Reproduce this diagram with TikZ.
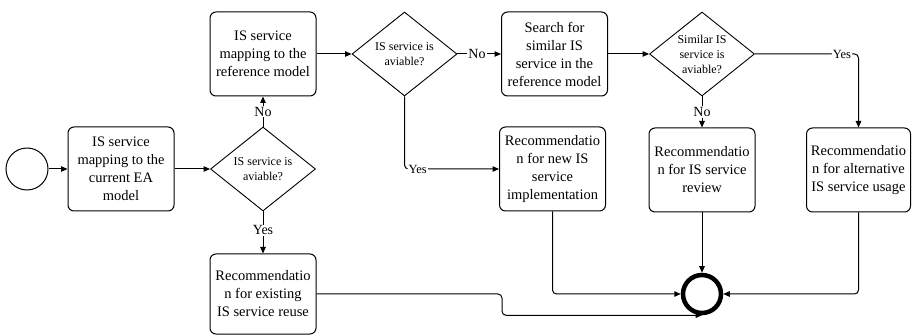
\documentclass[tikz,border=0pt]{standalone}
\usepackage{fontspec}
\setmainfont{Liberation Serif}
\usetikzlibrary{shapes.geometric,arrows.meta}
\begin{document}
\begin{tikzpicture}[x=1pt,y=-1pt,
  box/.style={draw, rounded corners=6pt, minimum width=106pt, minimum height=84pt, inner sep=2pt, align=center, font=\fontsize{14.5}{18}\selectfont, line width=1pt},
  dec/.style={draw, diamond, aspect=1.25, minimum width=105pt, minimum height=84pt, inner sep=0pt, align=center, font=\fontsize{12}{15}\selectfont, line width=0.9pt},
  flow/.style={line width=1pt, -{Triangle[length=6.5pt,width=5.5pt]}},
  lbl/.style={fill=white, inner sep=1pt, font=\fontsize{14}{14}\selectfont},
  slbl/.style={fill=white, inner sep=1pt, font=\fontsize{12.5}{12.5}\selectfont},
]
\useasboundingbox (0,0) rectangle (912,336);

\node[circle, draw, line width=1pt, minimum size=42pt] (start) at (27,169) {};
\node[box] (map) at (121,169) {IS service\\mapping to the\\current EA\\model};
\node[dec] (d1) at (263,169) {IS service is\\aviable?};
\node[box] (ref) at (263,54) {IS service\\mapping to the\\reference model};
\node[box, minimum height=80pt] (reuse) at (263,294) {Recommendatio\\n for existing\\IS service reuse};
\node[dec] (d2) at (404.5,54) {IS service is\\aviable?};
\node[box] (search) at (554.5,54) {Search for\\similar IS\\service in the\\reference model};
\node[dec] (d3) at (702,54) {Similar IS\\service is\\aviable?};
\node[box] (impl) at (552.5,169) {Recommendatio\\n for new IS\\service\\implementation};
\node[box] (rev) at (702,170) {Recommendatio\\n for IS service\\review};
\node[box, minimum width=104pt] (alt) at (858.5,170) {Recommendatio\\n for alternative\\IS service usage};
\node[circle, draw, line width=4.5pt, minimum size=38pt] (end) at (702,294) {};
\coordinate (k1) at (502,294);

\draw[flow] (start) -- (map);
\draw[flow] (map) -- (d1);
\draw[flow] (d1) -- node[lbl]{No} (ref);
\draw[flow] (d1) -- node[lbl, pos=0.45]{Yes} (reuse);
\draw[flow] (ref) -- (d2);
\draw[flow] (d2) -- node[lbl, pos=0.45]{No} (search);
\draw[flow, rounded corners=4pt] (d2.south) |- node[slbl, pos=0.57]{Yes} (impl.west);
\draw[flow] (search) -- (d3);
\draw[flow] (d3) -- node[lbl]{No} (rev);
\draw[flow, rounded corners=4pt] (d3.east) -| node[slbl, pos=0.42]{Yes} (alt.north);
\draw[flow] (rev) -- (end);
\draw[flow, rounded corners=4pt] (impl.south) |- (end.west);
\draw[flow, rounded corners=4pt] (alt.south) |- (end.east);
\draw[flow, rounded corners=4pt] (reuse.east) -- (k1) |- (end.south);
\end{tikzpicture}
\end{document}
